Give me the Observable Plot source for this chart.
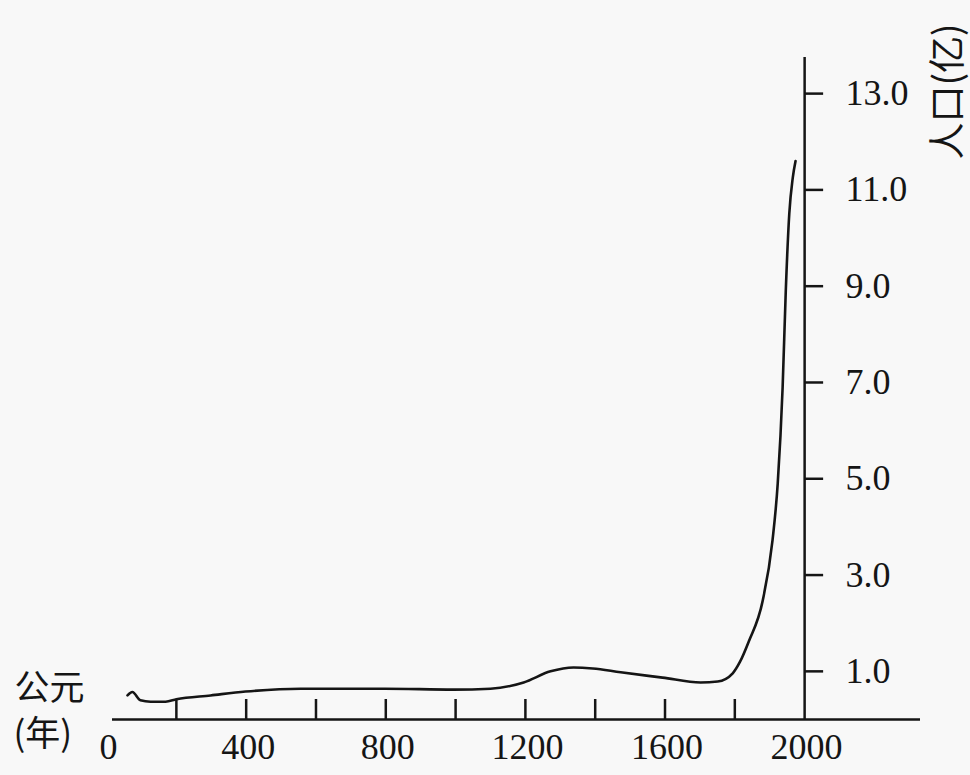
<!DOCTYPE html>
<html>
<head>
<meta charset="utf-8">
<script src="https://cdn.jsdelivr.net/npm/d3@7"></script>
<script src="https://cdn.jsdelivr.net/npm/@observablehq/plot@0.6"></script>
<style>
  html, body { margin: 0; padding: 0; background: #f8f8f8; }
  #chart svg { display: block; }
</style>
</head>
<body>
<div id="chart"></div>
<script>
// Data (year AD, population in 亿)
const years = [60, 74, 97, 126, 169, 200, 298, 398, 556, 797, 994, 1100, 1195, 1272, 1338, 1393, 1473, 1593, 1702, 1751, 1794, 1815, 1840, 1880, 1908, 1923, 1937, 1946, 1956, 1966, 1974];
const population = [0.50, 0.57, 0.40, 0.37, 0.37, 0.42, 0.50, 0.58, 0.64, 0.64, 0.62, 0.64, 0.77, 1.00, 1.08, 1.06, 0.98, 0.87, 0.77, 0.79, 0.96, 1.20, 1.62, 2.47, 3.72, 4.91, 6.90, 8.90, 10.5, 11.25, 11.6];

const xTicks = [200, 400, 600, 800, 1000, 1200, 1400, 1600, 1800];
const xTickLabels = [0, 400, 800, 1200, 1600, 2000];
const yTicks = [1, 3, 5, 7, 9, 11, 13];
const yAxisAt = [2000];
const yTitle = "人口(亿)";
const xTitleTop = "公元";
const xTitleBottom = "(年)";

const data = years.map((y, i) => ({year: y, pop: population[i]}));

const serif = "'Liberation Serif', 'DejaVu Serif', serif";
const cjk = "'Noto Sans CJK SC', sans-serif";
const ink = "#151515";

const chart = Plot.plot({
  width: 970,
  height: 775,
  marginTop: 57,
  marginBottom: 56,
  marginLeft: 112,
  marginRight: 50,
  x: {domain: [17, 2332], axis: null},
  y: {domain: [0, 13.75], axis: null},
  style: {background: "#f8f8f8", color: ink, overflow: "visible"},
  marks: [
    Plot.ruleY([0], {stroke: ink, strokeWidth: 2.5}),
    Plot.ruleX(yAxisAt, {stroke: ink, strokeWidth: 2.5}),
    Plot.ruleX(xTicks, {stroke: ink, strokeWidth: 2.5, insetTop: 642}),
    Plot.ruleY(yTicks, {x1: 2000, x2: 2000, insetRight: -19, stroke: ink, strokeWidth: 2.5}),
    Plot.line(data, {x: "year", y: "pop", curve: "monotone-x", stroke: ink, strokeWidth: 2.6}),
    Plot.text(xTickLabels, {x: d => d, y: 0, dy: 28, dx: 2, text: d => String(d), fontSize: 36, fontFamily: serif, fill: ink}),
    Plot.text(yTicks, {x: 2000, y: d => d, dx: 41, textAnchor: "start", text: d => d.toFixed(1), fontSize: 36, fontFamily: serif, fill: ink}),
    Plot.text([yTitle], {frameAnchor: "top-right", dx: 14, dy: 34, rotate: -90, textAnchor: "middle", text: d => d, fontSize: 37, letterSpacing: 3, fontFamily: cjk, fill: ink}),
    Plot.text([xTitleTop], {frameAnchor: "bottom-left", dx: -63, dy: -20, textAnchor: "middle", text: d => d, fontSize: 35, fontFamily: cjk, fill: ink}),
    Plot.text([xTitleBottom], {frameAnchor: "bottom-left", dx: -99, dy: 26, textAnchor: "start", text: d => d, fontSize: 35, fontFamily: cjk, fill: ink, letterSpacing: 7})
  ]
});
document.getElementById("chart").appendChild(chart);
</script>
</body>
</html>
